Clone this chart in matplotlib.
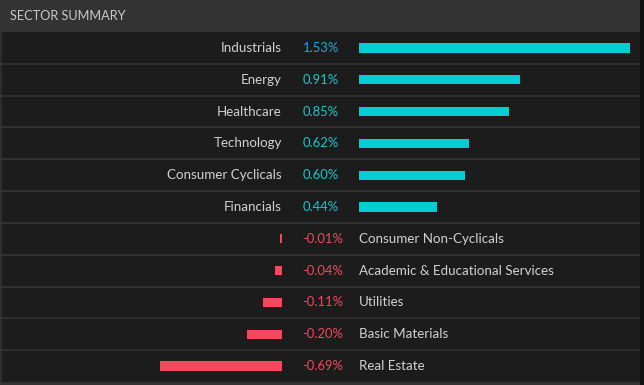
import numpy as np
import matplotlib.pyplot as plt

sectors = ['Industrials', 'Energy', 'Healthcare', 'Technology', 'Consumer Cyclicals',
           'Financials', 'Consumer Non-Cyclicals', 'Academic & Educational Services',
           'Utilities', 'Basic Materials', 'Real Estate']
changes = [1.53, 0.91, 0.85, 0.62, 0.60, 0.44, -0.01, -0.04, -0.11, -0.20, -0.69]
value_labels = ['1.53%', '0.91%', '0.85%', '0.62%', '0.60%', '0.44%',
                '-0.01%', '-0.04%', '-0.11%', '-0.20%', '-0.69%']

W, H = 644, 385
BG = '#1c1c1c'
HEAD = '#333333'
LINE = '#323232'
CYAN = '#00cdd4'
RED = '#f5475d'
TXT = '#d2d2d2'
PX_PER_PCT = 177.0

plt.rcParams['font.family'] = ['Lato', 'DejaVu Sans']

fig = plt.figure(figsize=(W / 100, H / 100), dpi=100)
fig.patch.set_facecolor('#111111')

def px_axes(x0, y0, x1, y1):
    # pixel box (top-left origin) -> figure axes
    return fig.add_axes([x0 / W, 1 - y1 / H, (x1 - x0) / W, (y1 - y0) / H])

# background panel in pixel coords
bg = px_axes(0, 0, W, H)
bg.set_xlim(0, W)
bg.set_ylim(H, 0)
bg.axis('off')
bg.add_patch(plt.Rectangle((0, 0), 640, 382, color=BG, lw=0))
bg.add_patch(plt.Rectangle((0, 0), 640, 32, color=HEAD, lw=0))
bg.add_patch(plt.Rectangle((0, 382), 640, 3, color=HEAD, lw=0))
bg.plot([0.5, 0.5], [32, 382], color=LINE, lw=1.2)
bg.text(10, 16.5, 'SECTOR SUMMARY', color='#c8c8c8', fontsize=9.2,
        va='center', ha='left')

n = len(sectors)
top, bottom = 32, 382
row_h = (bottom - top) / n
rows = np.arange(n)

# row separators
for i in range(1, n):
    y = top + i * row_h
    bg.plot([1, 639], [y, y], color=LINE, lw=1.3)

# text
for i, (name, val, lab) in enumerate(zip(sectors, changes, value_labels)):
    yc = top + (i + 0.5) * row_h
    if val >= 0:
        bg.text(282, yc, name, color=TXT, fontsize=9.6, ha='right', va='center')
        col = '#1aa9dc' if i == 0 else '#19c8cc'
        bg.text(303, yc, lab, color=col, fontsize=9.4, ha='left', va='center')
    else:
        bg.text(302, yc, lab, color=RED, fontsize=9.4, ha='left', va='center')
        bg.text(359, yc, name, color=TXT, fontsize=9.6, ha='left', va='center')

pos = np.array([max(c, 0) for c in changes])
neg = np.array([min(c, 0) for c in changes])
pmax = pos.max()
nmin = neg.min()

# positive bars
ax_p = px_axes(359, top, 359 + pmax * PX_PER_PCT, bottom)
ax_p.barh(rows, pos, height=0.29, color=CYAN)
ax_p.set_xlim(0, pmax)
ax_p.set_ylim(n - 0.5, -0.5)
ax_p.axis('off')

# negative bars
ax_n = px_axes(282 + nmin * PX_PER_PCT, top, 282, bottom)
ax_n.barh(rows, neg, height=0.29, color=RED)
ax_n.set_xlim(nmin, 0)
ax_n.set_ylim(n - 0.5, -0.5)
ax_n.axis('off')

fig.savefig('out.png', dpi=100, facecolor=fig.get_facecolor())
